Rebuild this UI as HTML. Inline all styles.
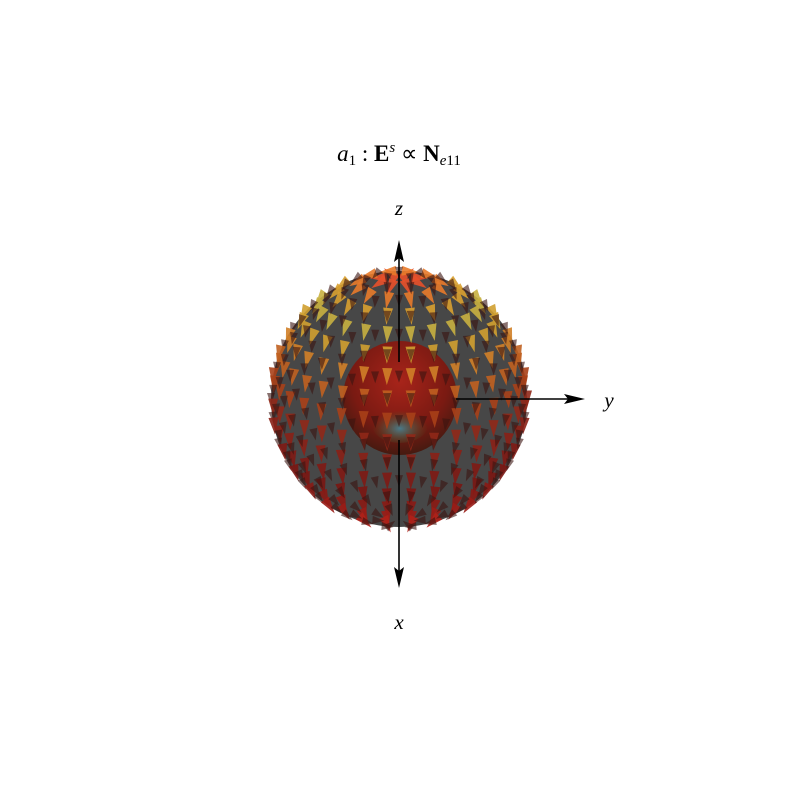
<!DOCTYPE html>
<html><head><meta charset="utf-8"><style>
body{margin:0;background:#fff}
svg text{font-family:"Liberation Serif",serif;font-style:italic;fill:#000}
</style></head><body>
<svg width="800" height="800">
<defs>
<radialGradient id="inner" cx="0.5" cy="0.35" r="0.7">
<stop offset="0" stop-color="#a8241a"/><stop offset="0.6" stop-color="#7a1a12"/><stop offset="1" stop-color="#3a1a10"/></radialGradient>
<radialGradient id="core" cx="0.5" cy="0.6" r="0.5">
<stop offset="0" stop-color="#4a7a8a"/><stop offset="1" stop-color="#4a5a20" stop-opacity="0"/></radialGradient>
</defs>
<text x="399" y="161" text-anchor="middle" font-size="23">a<tspan font-size="15" dy="4" font-style="normal">1</tspan><tspan dy="-4" font-style="normal"> : </tspan><tspan font-weight="bold" font-style="normal">E</tspan><tspan font-size="15" dy="-9">s</tspan><tspan dy="9" font-style="normal"> ∝ </tspan><tspan font-weight="bold" font-style="normal">N</tspan><tspan font-size="15" dy="4">e</tspan><tspan font-size="15" font-style="normal">11</tspan></text>
<circle cx="399" cy="399" r="128" fill="#474747"/>
<circle cx="400" cy="398" r="57" fill="url(#inner)"/>
<ellipse cx="400" cy="425" rx="28" ry="18" fill="url(#core)"/>
<g id="arrows"></g>
<g stroke="#000" stroke-width="1.6">
<line x1="399" y1="250" x2="399" y2="362"/>
<line x1="399" y1="440" x2="399" y2="578"/>
<line x1="456" y1="399" x2="575" y2="399"/>
</g>
<polygon points="399,240 394,262 399,258 404,262" fill="#000"/>
<polygon points="399,588 394,567 399,571 404,567" fill="#000"/>
<polygon points="585,399 564,394 568,399 564,404" fill="#000"/>
<text x="399" y="215" text-anchor="middle" font-size="21">z</text>
<text x="609" y="407" text-anchor="middle" font-size="21">y</text>
<text x="399" y="629" text-anchor="middle" font-size="21">x</text>
</svg>
<script>
const latitudes=[10,20,30,40,50,60,70,80,90,100,110,120,130,140,150,160,170];
const rowColors=["#e8502a","#e87a2a","#d8a030","#c8b040","#d0a030","#d08028","#c06020","#a84018","#902818","#8a2016","#801a14","#7a1612","#8a1a14","#9a1c16","#b02018","#c82418","#d82a1c"];
const g=document.getElementById('arrows');
const cx=399,cy=399,R=128,tilt=0.35;
latitudes.forEach((lat,i)=>{
  const th=lat*Math.PI/180;
  const n=Math.max(8,Math.round(34*Math.sin(th)));
  for(let k=0;k<n;k++){
    const ph=(k+0.5)/n*2*Math.PI;
    const x=Math.sin(th)*Math.cos(ph),y=Math.sin(th)*Math.sin(ph),z=Math.cos(th);
    const sx=y, sy=-(z*Math.cos(tilt)-x*Math.sin(tilt)), depth=x*Math.cos(tilt)+z*Math.sin(tilt);
    const px=cx+R*sx, py=cy+R*sy;
    const tx=Math.cos(th)*Math.cos(ph),ty=Math.cos(th)*Math.sin(ph),tz=-Math.sin(th);
    let dx=ty*0.5, dy=-(tz*Math.cos(tilt)-tx*Math.sin(tilt));
    const L=Math.hypot(dx,dy)||1; dx/=L; dy/=L;
    const len=depth>0?17:12, w=depth>0?5:4;
    const p=document.createElementNS('http://www.w3.org/2000/svg','polygon');
    const bx=px-dx*len/2,by=py-dy*len/2,ex=px+dx*len/2,ey=py+dy*len/2;
    p.setAttribute('points',`${bx-dy*w},${by+dx*w} ${ex},${ey} ${bx+dy*w},${by-dx*w}`);
    p.setAttribute('fill',depth>0?rowColors[i]:'#3a1410');
    p.setAttribute('opacity',depth>0?0.9:0.6);
    
    
    g.appendChild(p);
  }
});
</script>
</body></html>
